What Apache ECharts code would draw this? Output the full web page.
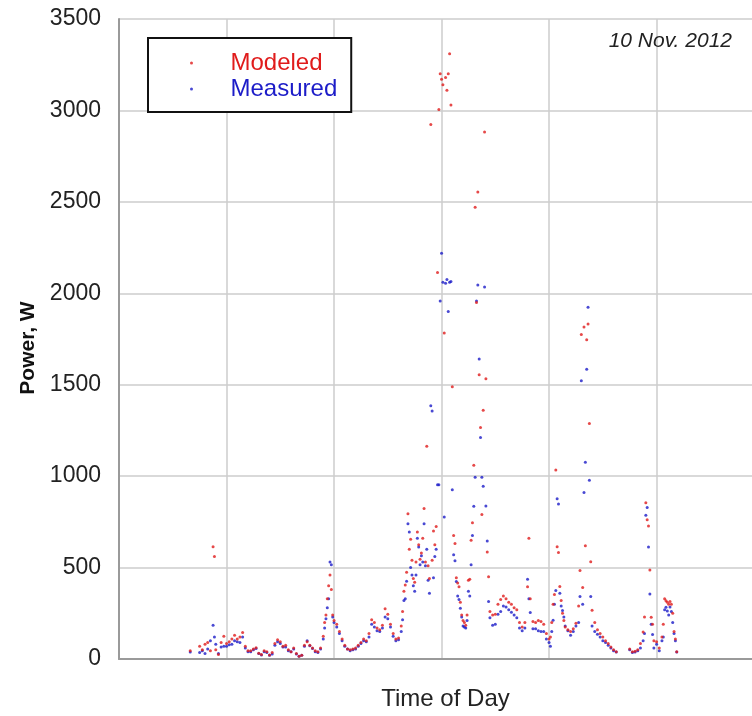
<!DOCTYPE html>
<html><head><meta charset="utf-8">
<script src="https://cdn.jsdelivr.net/npm/echarts@6/dist/echarts.min.js"></script>
<style>html,body{margin:0;padding:0;background:#fff;overflow:hidden}#c{width:752px;height:716px}</style>
</head><body><div id="c"></div>
<script>
// Time of day (hours) shared by both series
const hours = [2.65,
3.0,3.1,3.2,3.3,3.4,3.5,3.55,3.6,3.7,3.8,3.9,4.0,4.1,4.2,4.3,4.4,4.5,4.6,4.7,4.8,4.9,
5.0,5.1,5.2,5.3,5.4,5.5,5.6,5.7,5.8,5.9,6.0,6.1,6.2,6.3,6.4,6.5,6.6,6.7,6.8,6.9,
7.0,7.1,7.2,7.3,7.4,7.5,7.6,7.65,7.7,7.75,7.8,7.85,7.9,7.95,8.0,8.1,8.2,8.3,8.4,8.5,8.6,8.7,8.8,8.9,
9.0,9.1,9.2,9.3,9.4,9.5,9.6,9.7,9.8,9.9,10.0,10.1,10.2,10.3,10.4,10.5,
10.55,10.6,10.65,10.7,10.75,10.8,10.85,10.9,10.95,11.0,11.05,11.1,11.15,11.2,11.25,11.3,11.35,11.4,11.45,
11.5,11.55,11.6,11.65,11.7,11.75,11.8,11.85,11.9,11.95,12.0,12.05,12.1,12.15,12.2,12.25,12.3,12.35,12.4,
12.45,12.5,12.55,12.6,12.65,12.7,12.75,12.8,12.85,12.9,12.95,13.0,13.05,13.1,13.15,13.2,13.25,13.3,13.35,
13.4,13.45,13.5,13.55,13.6,13.65,13.7,13.75,13.8,13.9,
14.0,14.1,14.2,14.3,14.4,14.5,14.6,14.7,14.8,14.9,15.0,15.1,15.2,15.25,15.3,15.4,15.5,15.6,15.7,15.8,15.9,
16.0,16.05,16.1,16.15,16.2,16.25,16.3,16.35,16.4,16.45,16.5,16.55,16.6,16.7,16.8,16.9,
17.0,17.1,17.15,17.2,17.25,17.3,17.35,17.4,17.45,17.5,17.55,17.6,17.7,17.8,17.9,
18.0,18.1,18.2,18.3,18.4,18.5,
19.0,19.1,19.2,19.3,19.4,19.5,19.55,19.6,19.65,19.7,19.75,19.8,19.85,19.9,
20.0,20.1,20.2,20.25,20.3,20.35,20.4,20.45,20.5,20.55,20.6,20.65,20.7,20.75];

// Modeled power, W
const modeled = [45,
70,50,80,90,45,614,560,50,25,90,125,85,95,110,130,110,120,145,70,45,45,
55,62,32,25,45,40,22,35,85,105,95,70,75,50,40,60,30,15,20,75,
95,75,60,45,40,60,125,200,240,330,400,460,380,240,210,190,150,110,75,55,50,55,60,75,
90,110,100,140,215,200,170,160,185,275,245,190,140,110,115,180,
260,370,405,475,795,600,655,540,440,420,530,695,625,545,580,660,823,530,1163,
510,440,2923,540,700,625,725,2114,3005,3200,3170,3140,1783,3180,3110,3200,3310,3030,1489,
676,632,445,415,395,310,240,210,200,185,240,430,436,650,745,1059,2470,1950,2554,
1554,1266,790,1360,2882,1532,585,450,260,240,
245,300,325,345,330,310,300,280,270,200,175,200,395,660,330,205,200,210,205,190,140,
110,120,200,300,353,1034,614,582,397,320,250,210,175,160,150,165,
195,290,484,1774,391,1815,620,1746,1832,1288,532,266,200,160,140,
120,100,85,65,50,40,
55,40,42,50,85,147,230,855,762,727,487,228,190,100,
95,60,120,190,330,318,310,300,315,300,250,150,110,40];

// Measured power, W
const measured = [38,
35,45,30,55,100,185,120,80,30,65,70,70,78,80,100,95,90,120,60,40,40,
50,58,30,22,40,35,20,28,75,95,85,65,65,45,40,55,28,15,20,70,
100,72,58,40,35,55,110,170,220,280,330,530,515,230,200,175,140,100,70,55,45,50,55,70,
85,100,95,120,190,175,155,150,170,230,220,175,125,100,105,150,
215,320,330,425,740,695,500,460,400,370,460,660,612,515,565,530,740,510,600,
430,360,1385,1356,445,560,600,953,953,1958,2219,2060,777,2055,2075,1900,2060,2065,925,
570,537,424,345,325,278,230,180,175,170,210,370,345,515,675,835,994,1958,2045,
1641,1212,994,945,2035,837,645,315,225,185,
190,245,260,290,285,270,255,240,225,170,155,170,436,330,254,165,165,155,150,150,110,
90,70,150,212,300,375,877,848,360,290,265,230,180,155,130,150,
180,200,342,1522,300,911,1076,1584,1924,978,342,180,150,135,120,
100,90,75,60,45,38,
50,35,38,45,60,100,140,786,828,612,355,190,134,60,
80,45,100,120,270,283,262,240,285,260,200,140,100,38];

const yTicks = {min: 0, max: 3500, step: 500};
const xTicks = {min: 0, max: 23.55, step: 4};

const chart = echarts.init(document.getElementById('c'), null, {renderer: 'canvas'});
const font = 'Liberation Sans, Arial, Helvetica, sans-serif';
chart.setOption({
  animation: false,
  backgroundColor: '#ffffff',
  textStyle: {fontFamily: font},
  title: {
    text: '10 Nov. 2012', right: 20, top: 31, padding: 0,
    textStyle: {fontStyle: 'italic', fontWeight: 'normal', fontSize: 21, color: '#222', fontFamily: font}
  },
  legend: {
    orient: 'vertical', left: 148, top: 38,
    padding: [13, 14, 11, 42],
    borderColor: '#111', borderWidth: 2, backgroundColor: '#ffffff',
    itemWidth: 68, itemHeight: 3, itemGap: 2, icon: 'circle',
    textStyle: {fontSize: 24, fontFamily: font},
    data: [
      {name: 'Modeled', textStyle: {color: '#e01b1b'}},
      {name: 'Measured', textStyle: {color: '#1c1cc8'}}
    ]
  },
  grid: {left: 119, right: 0, top: 19, bottom: 53},
  xAxis: {
    type: 'value', min: xTicks.min, max: xTicks.max, interval: xTicks.step,
    name: 'Time of Day', nameLocation: 'middle', nameGap: 28,
    nameTextStyle: {fontSize: 24, color: '#222', padding: [0, 0, 0, 20]},
    axisLabel: {show: false}, axisTick: {show: false},
    axisLine: {lineStyle: {color: '#9a9a9a', width: 2}},
    splitLine: {show: true, showMaxLine: false, lineStyle: {color: '#cccccc', width: 1.5}}
  },
  yAxis: {
    type: 'value', min: yTicks.min, max: yTicks.max, interval: yTicks.step,
    name: 'Power, W', nameLocation: 'middle', nameGap: 79, nameRotate: 90,
    nameTextStyle: {fontSize: 21, fontWeight: 'bold', color: '#111', padding: [0, 18, 0, 0]},
    axisLabel: {fontSize: 23, color: '#222', margin: 18, formatter: v => String(v)},
    axisTick: {show: false},
    axisLine: {show: true, lineStyle: {color: '#9a9a9a', width: 2}},
    splitLine: {lineStyle: {color: '#cccccc', width: 1.5}}
  },
  series: [
    {name: 'Measured', type: 'scatter', symbolSize: 3, itemStyle: {color: '#1c1cc8'},
     data: hours.map((h, i) => [h, measured[i]])},
    {name: 'Modeled', type: 'scatter', symbolSize: 3, itemStyle: {color: '#e01b1b'},
     data: hours.map((h, i) => [h, modeled[i]])}
  ]
});
</script>
</body></html>
